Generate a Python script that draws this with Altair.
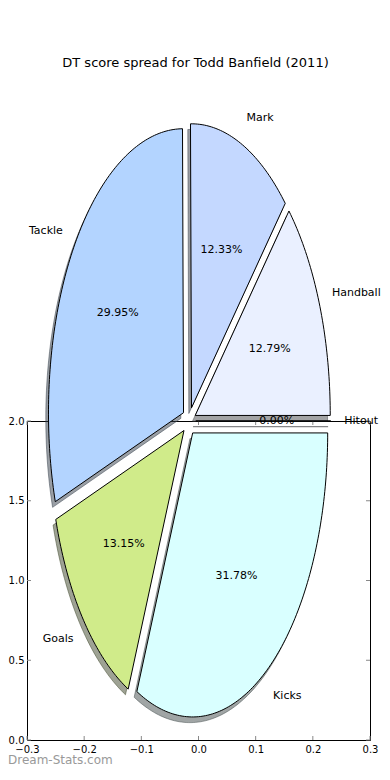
import math
import pandas as pd
import altair as alt

# ---- data ----
labels = ["Hitout", "Handball", "Mark", "Tackle", "Goals", "Kicks"]
shares = [0.00, 12.79, 12.33, 29.95, 13.15, 31.78]
colors = ["#eef2ff", "#eaf0ff", "#c4d8ff", "#b3d4ff", "#d0eb8a", "#d9ffff"]
x_ticks = [-0.3, -0.2, -0.1, 0.0, 0.1, 0.2, 0.3]
y_ticks = [0.0, 0.5, 1.0, 1.5, 2.0]
title_text = "DT score spread for Todd Banfield (2011)"
watermark = "Dream-Stats.com"

# ---- pie geometry in the axes' data units ----
center_x, center_y = -0.0166, 2.0
radius_x, radius_y = 0.2362, 1.7806
explode = 0.05
shadow_shift = -0.02
label_dist, pct_dist = 1.1, 0.6

W, H = 343, 319
FONT = "DejaVu Sans"


def shade(hex_color, rho=0.3):
    h = hex_color.lstrip("#")
    r, g, b = (int(h[i:i + 2], 16) for i in (0, 2, 4))
    return "#%02x%02x%02x" % (int(r * rho), int(g * rho), int(b * rho))


shadow_colors = [shade(c) for c in colors]

wedge_rows, shadow_rows, pct_rows, name_rows = [], [], [], []
total = sum(shares)
start = 0.0
for lab, val in zip(labels, shares):
    span = 360.0 * val / total
    a0, a1 = start, start + span
    mid = math.radians((a0 + a1) / 2)
    ox = center_x + explode * radius_x * math.cos(mid)
    oy = center_y + explode * radius_y * math.sin(mid)
    n = max(2, int(math.ceil(span / 1.0)) + 1)
    pts = [(ox, oy)]
    for k in range(n):
        t = math.radians(a0 + (a1 - a0) * k / (n - 1))
        pts.append((ox + radius_x * math.cos(t), oy + radius_y * math.sin(t)))
    pts.append((ox, oy))
    for i, (px, py) in enumerate(pts):
        wedge_rows.append({"wedge": lab, "i": i, "x": px, "y": py})
        shadow_rows.append({"wedge": lab, "i": i,
                            "x": px + shadow_shift * radius_x,
                            "y": py + shadow_shift * radius_y})
    pct_rows.append({"x": ox + pct_dist * radius_x * math.cos(mid),
                     "y": oy + pct_dist * radius_y * math.sin(mid),
                     "text": "%.2f%%" % val})
    lx = ox + label_dist * radius_x * math.cos(mid)
    ly = oy + label_dist * radius_y * math.sin(mid)
    name_rows.append({"x": lx, "y": ly, "text": lab,
                      "side": "left" if lx - center_x > 0 else "right"})
    start = a1

wedges = pd.DataFrame(wedge_rows)
shadows = pd.DataFrame(shadow_rows)
pcts = pd.DataFrame(pct_rows)
names = pd.DataFrame(name_rows)
xt = pd.DataFrame({"x": x_ticks})
yt = pd.DataFrame({"y": y_ticks})

xscale = alt.Scale(domain=[-0.3, 0.3], nice=False, zero=False)
yscale = alt.Scale(domain=[0.0, 2.0], nice=False, zero=False)
xaxis = alt.Axis(values=x_ticks, format=".1f", ticks=False, domain=False, grid=False,
                 labelPadding=4, labelFontSize=10, labelFont=FONT, labelColor="black",
                 title=None, labelFlush=False)
yaxis = alt.Axis(values=y_ticks, format=".1f", ticks=False, domain=False, grid=False,
                 labelPadding=3, labelFontSize=10, labelFont=FONT, labelColor="black",
                 title=None, labelFlush=False)


def X(f="x"):
    return alt.X(f + ":Q", scale=xscale, axis=xaxis)


def Y(f="y"):
    return alt.Y(f + ":Q", scale=yscale, axis=yaxis)


tick_color = "#888888"
xt_bottom = alt.Chart(xt).mark_rule(color=tick_color, strokeWidth=1).encode(
    x=X(), y=alt.value(H), y2=alt.value(H - 4))
xt_top = alt.Chart(xt).mark_rule(color=tick_color, strokeWidth=1).encode(
    x=X(), y=alt.value(0), y2=alt.value(4))
yt_left = alt.Chart(yt).mark_rule(color=tick_color, strokeWidth=1).encode(
    y=Y(), x=alt.value(0), x2=alt.value(4))
yt_right = alt.Chart(yt).mark_rule(color=tick_color, strokeWidth=1).encode(
    y=Y(), x=alt.value(W - 4), x2=alt.value(W))

shadow_layer = alt.Chart(shadows).mark_line(
    fillOpacity=0.5, strokeOpacity=0.5, strokeWidth=1, interpolate="linear"
).encode(
    x=X(), y=Y(), order=alt.Order("i:Q"), detail="wedge:N",
    fill=alt.Fill("wedge:N", scale=alt.Scale(domain=labels, range=shadow_colors), legend=None),
    stroke=alt.Stroke("wedge:N", scale=alt.Scale(domain=labels, range=shadow_colors), legend=None),
)

wedge_layer = alt.Chart(wedges).mark_line(
    stroke="black", strokeWidth=1, strokeJoin="miter", interpolate="linear"
).encode(
    x=X(), y=Y(), order=alt.Order("i:Q"), detail="wedge:N",
    fill=alt.Fill("wedge:N", scale=alt.Scale(domain=labels, range=colors), legend=None),
)

pct_layer = alt.Chart(pcts).mark_text(
    font=FONT, fontSize=11, color="black", align="center", baseline="middle"
).encode(x=X(), y=Y(), text="text:N")

name_left = alt.Chart(names).transform_filter(alt.datum.side == "left").mark_text(
    font=FONT, fontSize=11, color="black", align="left", baseline="middle"
).encode(x=X(), y=Y(), text="text:N")

name_right = alt.Chart(names).transform_filter(alt.datum.side == "right").mark_text(
    font=FONT, fontSize=11, color="black", align="right", baseline="middle"
).encode(x=X(), y=Y(), text="text:N")

mark_df = pd.DataFrame({"text": [watermark]})
wm = alt.Chart(mark_df).mark_text(
    font=FONT, fontSize=12, color="#999999", align="left", baseline="middle"
).encode(x=alt.value(-19), y=alt.value(H + 20), text="text:N")

chart = alt.layer(
    xt_bottom, xt_top, yt_left, yt_right,
    shadow_layer, wedge_layer, pct_layer, name_left, name_right, wm
).resolve_scale(
    fill="independent", stroke="independent"
).properties(
    width=W, height=H,
    title=alt.TitleParams(text=title_text, font=FONT, fontSize=13, fontWeight="normal",
                          color="black", anchor="middle", frame="group", offset=42, dx=-3),
    autosize=alt.AutoSizeParams(type="none"),
    padding={"left": 19, "top": 413, "right": 12, "bottom": 26},
).configure_view(stroke="black", strokeWidth=1)

chart.save("out.html", embed_options={"renderer": "svg", "actions": False})
